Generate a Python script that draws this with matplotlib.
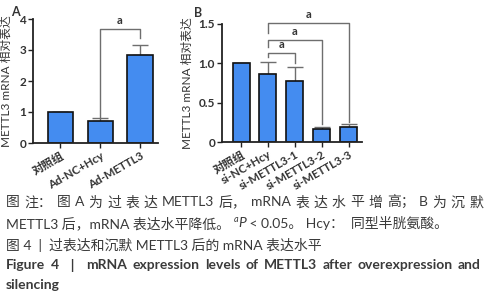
import matplotlib
matplotlib.use("Agg")
import matplotlib.pyplot as plt

plt.rcParams['font.family'] = ['Lato', 'Noto Sans CJK SC', 'DejaVu Sans']

# panel A: overexpression
labels_a = ["对照组", "Ad-NC+Hcy", "Ad-METTL3"]
values_a = [1.0, 0.70, 2.85]
errors_a = [0.0, 0.10, 0.30]

# panel B: silencing
labels_b = ["对照组", "si-NC+Hcy", "si-METTL3-1", "si-METTL3-2", "si-METTL3-3"]
values_b = [1.0, 0.87, 0.77, 0.16, 0.19]
errors_b = [0.0, 0.15, 0.18, 0.03, 0.04]

W, H = 493, 300
BAR = "#448cf0"
TXT = "#333333"
BRK = "#6e6e6e"

fig = plt.figure(figsize=(W / 100, H / 100), dpi=100)


def box(x0, x1, y_top, y_bot):
    return [x0 / W, 1 - y_bot / H, (x1 - x0) / W, (y_bot - y_top) / H]


def bar_panel(ax, labels, values, errors):
    x = list(range(len(values)))
    ax.errorbar(x, values, yerr=[[0] * len(errors), errors], fmt="none",
                ecolor=BRK, elinewidth=1, capsize=6, capthick=1, zorder=1)
    ax.bar(x, values, width=0.63, color=BAR, edgecolor="#111111",
           linewidth=1.2, zorder=2)
    ax.set_xticks(x)
    ax.set_xticklabels(labels, rotation=30, ha="right", rotation_mode="anchor",
                       fontsize=8.3, fontweight="bold", color=TXT)
    for s in ["top", "right"]:
        ax.spines[s].set_visible(False)
    for s in ["left", "bottom"]:
        ax.spines[s].set_linewidth(1.3)
        ax.spines[s].set_color("#222222")
    ax.tick_params(axis="both", length=3.5, width=1, color="#222222", pad=1.5)
    ax.set_ylabel("METTL3 mRNA 相对表达", fontsize=8.5, color=TXT)
    return x


def bracket(ax, x0, x1, top, left_end, right_end, label):
    ax.plot([x0, x0, x1, x1], [left_end, top, top, right_end],
            color=BRK, lw=1, zorder=3, clip_on=False)
    ax.text((x0 + x1) / 2, top + 0.025 * ax.get_ylim()[1], label,
            ha="center", va="bottom", fontsize=8, fontweight="bold", color=TXT)


# ---- panel A
ax_a = fig.add_axes(box(33, 158, 19, 143))
xa = bar_panel(ax_a, labels_a, values_a, errors_a)
ax_a.set_xlim(-0.68, 2.45)
ax_a.set_ylim(0, 4)
ax_a.set_yticks([0, 1, 2, 3, 4])
ax_a.set_yticklabels(["0", "1", "2", "3", "4"], fontsize=8.5,
                     fontweight="bold", color=TXT)
ax_a.yaxis.set_label_coords(-0.17, 0.5)
bracket(ax_a, xa[1], xa[2], 3.68, 0.84, 3.40, "a")

# ---- panel B
ax_b = fig.add_axes(box(222, 362, 24, 142))
xb = bar_panel(ax_b, labels_b, values_b, errors_b)
ax_b.set_xlim(-0.71, 4.5)
ax_b.set_ylim(0, 1.5)
ax_b.set_yticks([0, 0.5, 1.0, 1.5])
ax_b.set_yticklabels(["0", "0.5", "1.0", "1.5"], fontsize=8.5,
                     fontweight="bold", color=TXT)
ax_b.yaxis.set_label_coords(-0.21, 0.5)
bracket(ax_b, xb[1], xb[2], 1.13, 1.075, 1.00, "a")
bracket(ax_b, xb[1], xb[3], 1.30, 1.21, 0.225, "a")
bracket(ax_b, xb[1], xb[4], 1.51, 1.38, 0.255, "a")

fig.text(15 / W, 1 - 12 / H, "A", fontsize=9, fontweight="bold",
         color=TXT, ha="center", va="center")
fig.text(198 / W, 1 - 13 / H, "B", fontsize=9, fontweight="bold",
         color=TXT, ha="center", va="center")

# ---- caption
renderer = fig.canvas.get_renderer()
CAP = "#3a3a3a"
FS = 10


def run(segs, x0, y):
    x = x0
    for s, kw in segs:
        dy = kw.pop("dy", 0)
        t = fig.text(x / W, 1 - (y + dy) / H, s, va="center", ha="left",
                     color=CAP, **kw)
        x += t.get_window_extent(renderer).width
    return x


def justify(tokens, x0, x1, y, **kw):
    texts = [fig.text(0, 1 - y / H, tok, va="center", ha="left", color=CAP, **kw)
             for tok in tokens]
    widths = [t.get_window_extent(renderer).width for t in texts]
    gap = (x1 - x0 - sum(widths)) / (len(tokens) - 1)
    x = x0
    for t, w in zip(texts, widths):
        t.set_x(x / W)
        x += w + gap


line1 = ["图", "注：", "图", "A", "为", "过", "表", "达", "METTL3", "后，",
         "mRNA", "表", "达", "水", "平", "增", "高；", "B", "为", "沉", "默"]
justify(line1, 6, 483, 202, fontsize=FS)

run([("METTL3 后，mRNA 表达水平降低。 ", dict(fontsize=FS)),
     ("a", dict(fontsize=6.5, dy=-3.5, fontstyle="italic")),
     ("P", dict(fontsize=FS, fontstyle="italic")),
     (" < 0.05。 Hcy：  同型半胱氨酸。", dict(fontsize=FS))], 6, 223)

run([("图 4  |  过表达和沉默 METTL3 后的 mRNA 表达水平", dict(fontsize=FS))], 6, 245)

line4 = ["Figure", "4", "  |  ", "mRNA", "expression", "levels", "of",
         "METTL3", "after", "overexpression", "and"]
justify(line4, 6, 481, 265, fontsize=10, fontweight="bold")

run([("silencing", dict(fontsize=10, fontweight="bold"))], 6, 285)

fig.savefig("out.png", dpi=100)
